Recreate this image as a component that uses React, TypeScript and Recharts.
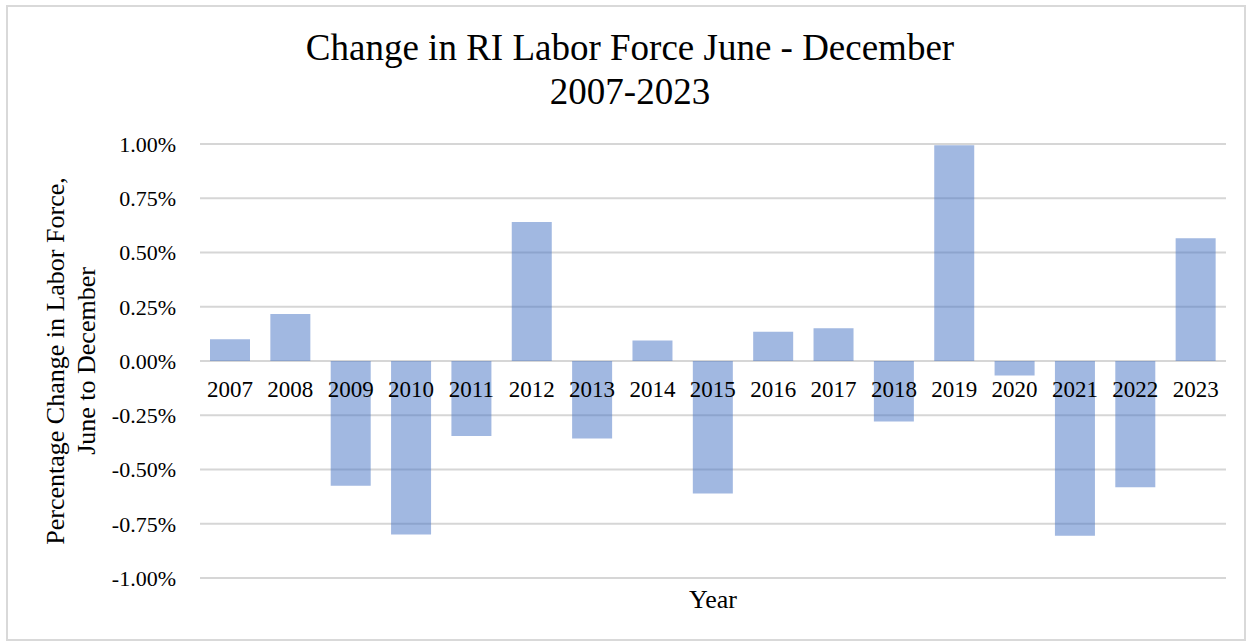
import { BarChart, Bar, XAxis, YAxis, CartesianGrid, LabelList } from 'recharts';

// Rhode Island labor force, % change June -> December
const years = ['2007', '2008', '2009', '2010', '2011', '2012', '2013', '2014', '2015', '2016', '2017', '2018', '2019', '2020', '2021', '2022', '2023'];
const pctChange = [0.10, 0.217, -0.575, -0.80, -0.346, 0.641, -0.357, 0.095, -0.611, 0.135, 0.151, -0.279, 0.994, -0.067, -0.805, -0.582, 0.566];
const yTicks = [-1, -0.75, -0.5, -0.25, 0, 0.25, 0.5, 0.75, 1];

const data = years.map((year, i) => ({ year, value: pctChange[i] }));

const FONT = '"Liberation Serif", "Times New Roman", serif';

// year labels sit just under the zero line, like Excel's "next to axis"
const YearLabel = (props: any) => {
  const { x, y, width, height, value } = props;
  const zeroY = y + height;
  return (
    <text
      x={x + width / 2}
      y={zeroY + 28}
      textAnchor="middle"
      dominantBaseline="central"
      fontFamily={FONT}
      fontSize={23}
      fill="#000"
    >
      {value}
    </text>
  );
};

const YTitle = (props: any) => {
  const vb = props.viewBox || {};
  const cy = vb.y + vb.height / 2;
  return (
    <text
      transform={`translate(72, ${cy}) rotate(-90)`}
      textAnchor="middle"
      fontFamily={FONT}
      fontSize={26}
      fill="#000"
    >
      <tspan x={0} dy={-8}>Percentage Change in Labor Force,</tspan>
      <tspan x={0} dy={31}>June to December</tspan>
    </text>
  );
};

export default function App() {
  return (
    <div style={{ position: 'absolute', left: 0, top: 0, width: 1250, height: 643, background: '#fff', fontFamily: FONT }}>
      <div style={{ position: 'absolute', left: 6, top: 5, width: 1236, height: 632, border: '2px solid #d9d9d9' }} />
      <div style={{ position: 'absolute', left: 0, top: 26, width: 1260, textAlign: 'center', fontSize: 37, lineHeight: '44px', color: '#000' }}>
        Change in RI Labor Force June - December
        <br />
        2007-2023
      </div>
      <div style={{ position: 'absolute', left: 0, top: 0 }}>
        <BarChart width={1250} height={643} data={data} margin={{ top: 144, right: 24, bottom: 65, left: 0 }}>
          <CartesianGrid vertical={false} stroke="#d6d6d6" strokeWidth={2} />
          <XAxis dataKey="year" hide />
          <YAxis
            width={200}
            domain={[-1, 1]}
            ticks={yTicks}
            tickFormatter={(v: number) => v.toFixed(2) + '%'}
            axisLine={false}
            tickLine={false}
            tickSize={0}
            tickMargin={24}
            tick={{ fill: '#000', fontSize: 22, fontFamily: FONT }}
            label={{ content: YTitle }}
          />
          <Bar dataKey="value" fill="#4472C4" fillOpacity={0.5} barSize={40} isAnimationActive={false}>
            <LabelList dataKey="year" content={YearLabel} />
          </Bar>
        </BarChart>
      </div>
      <div style={{ position: 'absolute', left: 200, top: 585, width: 1026, textAlign: 'center', fontSize: 26, lineHeight: '30px', color: '#000' }}>
        Year
      </div>
    </div>
  );
}
